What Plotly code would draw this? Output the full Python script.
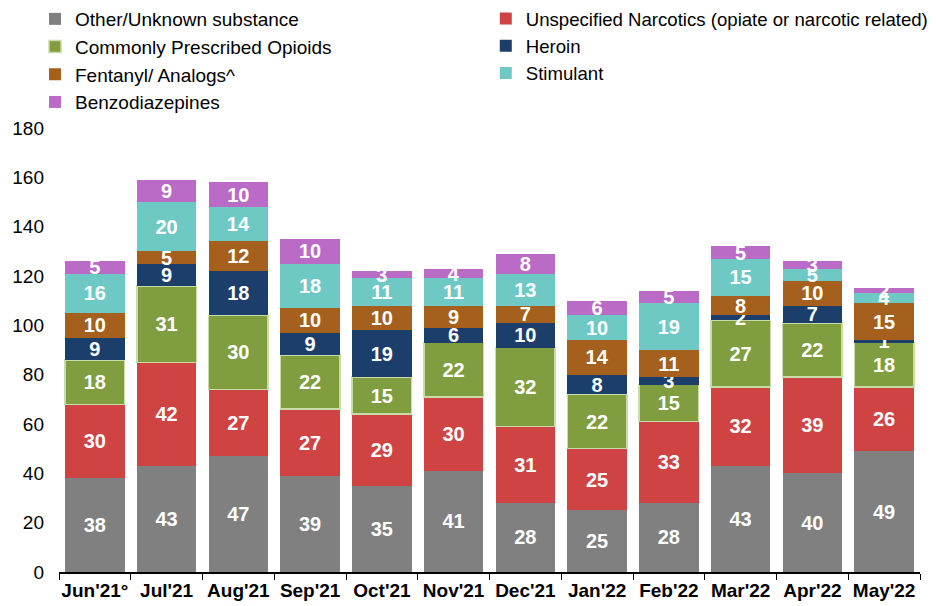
import plotly.graph_objects as go

months = ["Jun'21°", "Jul'21", "Aug'21", "Sep'21", "Oct'21", "Nov'21",
          "Dec'21", "Jan'22", "Feb'22", "Mar'22", "Apr'22", "May'22"]

other = [38, 43, 47, 39, 35, 41, 28, 25, 28, 43, 40, 49]
unspecified = [30, 42, 27, 27, 29, 30, 31, 25, 33, 32, 39, 26]
prescribed = [18, 31, 30, 22, 15, 22, 32, 22, 15, 27, 22, 18]
heroin = [9, 9, 18, 9, 19, 6, 10, 8, 3, 2, 7, 1]
fentanyl = [10, 5, 12, 10, 10, 9, 7, 14, 11, 8, 10, 15]
stimulant = [16, 20, 14, 18, 11, 11, 13, 10, 19, 15, 5, 4]
benzo = [5, 9, 10, 10, 3, 4, 8, 6, 5, 5, 3, 2]

# (name, values, color, outline color, outline width, legend column)
series = [
    ("Other/Unknown substance", other, "#808080", "rgba(0,0,0,0)", 0, "legend"),
    ("Unspecified Narcotics (opiate or narcotic related)", unspecified, "#d04343", "rgba(0,0,0,0)", 0, "legend2"),
    ("Commonly Prescribed Opioids", prescribed, "#809d3f", "#c9dba6", 1.5, "legend"),
    ("Heroin", heroin, "#1b3e6b", "rgba(0,0,0,0)", 0, "legend2"),
    ("Fentanyl/ Analogs^", fentanyl, "#a5601e", "rgba(0,0,0,0)", 0, "legend"),
    ("Stimulant", stimulant, "#6ec9c5", "rgba(0,0,0,0)", 0, "legend2"),
    ("Benzodiazepines", benzo, "#b96bc6", "rgba(0,0,0,0)", 0, "legend"),
]

FONT = "Liberation Sans, Arial"

fig = go.Figure()
for name, vals, color, lc, lw, lg in series:
    fig.add_trace(go.Bar(
        name=name, x=months, y=vals, legend=lg,
        marker=dict(color=color, line=dict(color=lc, width=lw)),
        text=[str(v) for v in vals],
        texttemplate="%{text}",
        textposition="inside",
        insidetextanchor="middle",
        textangle=0,
        constraintext="none",
        textfont=dict(family=FONT, size=20, color="white", weight="bold"),
        cliponaxis=False,
    ))

legend_common = dict(
    orientation="v",
    xref="container", yref="container",
    xanchor="left", yanchor="top",
    traceorder="normal",
    bgcolor="rgba(0,0,0,0)",
    itemwidth=30,
)

fig.update_layout(
    width=936, height=606,
    barmode="stack",
    bargap=0.17,
    plot_bgcolor="white", paper_bgcolor="white",
    margin=dict(l=59, r=16, t=128, b=34, autoexpand=False),
    font=dict(family=FONT, size=19, color="black"),
    uniformtext=dict(minsize=20, mode="show"),
    legend=dict(x=0.0374, y=1.0, font=dict(size=19, family=FONT, color="black"),
                **legend_common),
    legend2=dict(x=0.519, y=1.0, font=dict(size=18.6, family=FONT, color="black"),
                 **legend_common),
    xaxis=dict(
        showline=True, linecolor="black", linewidth=1.5,
        ticks="outside", tickson="boundaries", ticklen=6, tickcolor="black",
        tickfont=dict(size=19, weight="bold"), tickangle=0,
        automargin=False,
    ),
    yaxis=dict(
        range=[0, 180], dtick=20, showgrid=False, zeroline=False,
        showline=False, ticks="", tickfont=dict(size=19),
        ticklabelstandoff=14, automargin=False,
    ),
)

fig.write_html("out.html", config={"displayModeBar": False},
               post_script="document.body.style.margin='0';")
